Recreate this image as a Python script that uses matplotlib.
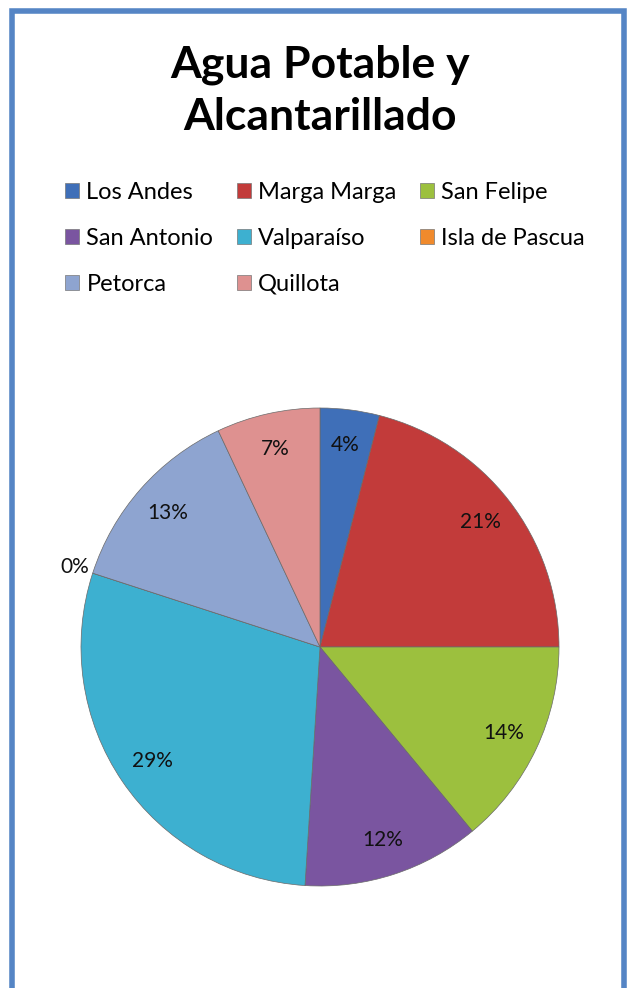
import matplotlib.pyplot as plt
from matplotlib.patches import Rectangle, Patch

provincias = ["Los Andes", "Marga Marga", "San Felipe", "San Antonio",
              "Valparaíso", "Isla de Pascua", "Petorca", "Quillota"]
porcentajes = [4, 21, 14, 12, 29, 0, 13, 7]
colores = ["#3F6FB8", "#C23B3A", "#9CC03E", "#7A55A0",
           "#3DB0D0", "#F08A2C", "#8EA4D0", "#DE9190"]

plt.rcParams['font.family'] = ['Lato', 'DejaVu Sans']

fig = plt.figure(figsize=(6.27, 9.88), dpi=100)

# borde azul del grafico
fig.patches.append(Rectangle((12 / 627, -0.05), 612 / 627, 1.05 - 11 / 988,
                             transform=fig.transFigure, fill=False,
                             edgecolor="#5585C5", linewidth=4))

fig.text(0.51, 0.908, "Agua Potable y\nAlcantarillado", ha="center", va="center",
         fontsize=32, fontweight="bold", linespacing=1.38)

ax = fig.add_axes([81 / 627, 102 / 988, 478 / 627, 478 / 988])
wedges, textos, pct = ax.pie(porcentajes, colors=colores, startangle=90,
                             counterclock=False, autopct="%d%%",
                             pctdistance=0.85,
                             wedgeprops=dict(edgecolor="#6a6a6a", linewidth=0.5),
                             textprops=dict(fontsize=15, color="#111111"))
for v, t in zip(porcentajes, pct):
    if v == 0:
        x, y = t.get_position()
        t.set_position((x * 1.27, y * 1.27))
ax.set_xlim(-1, 1)
ax.set_ylim(-1, 1)
ax.set_aspect("equal")

# leyenda en orden por filas (matplotlib llena por columnas)
orden = [0, 3, 6, 1, 4, 7, 2, 5]
handles = [Patch(facecolor=colores[i], edgecolor="#777777", linewidth=0.5) for i in orden]
fig.legend(handles, [provincias[i] for i in orden], ncol=3, loc="upper left",
           bbox_to_anchor=(0.07, 0.837), frameon=False, fontsize=17,
           handlelength=0.6, handleheight=0.6, handletextpad=0.3,
           columnspacing=1.0, labelspacing=1.05)

fig.savefig("out.png", dpi=100)
